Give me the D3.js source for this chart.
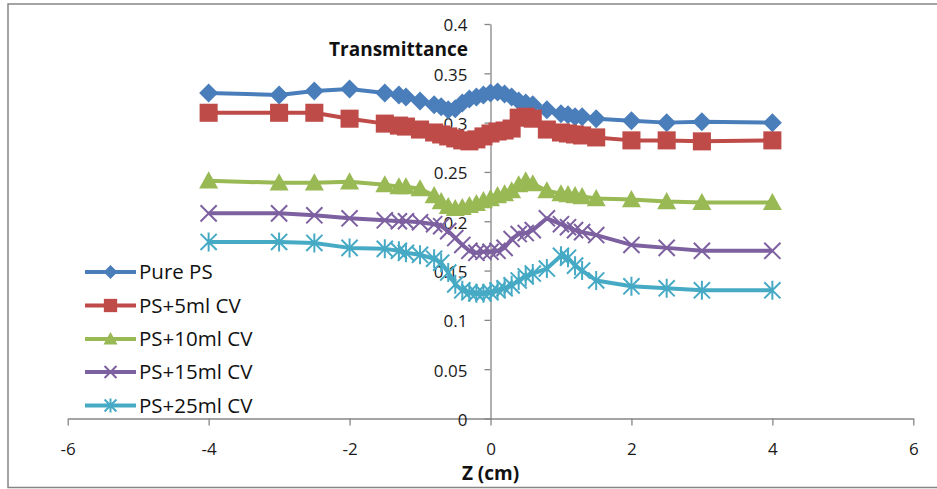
<!DOCTYPE html>
<html>
<head>
<meta charset="utf-8">
<script src="https://cdn.jsdelivr.net/npm/d3@7"></script>
<style>
  body { margin: 0; background: #fff; }
  svg { display: block; }
  text { font-family: "Open Sans", sans-serif; }
</style>
</head>
<body>
<svg width="937" height="489"></svg>
<script>
// z positions (cm)
const zValues = [-4, -3, -2.5, -2, -1.5, -1.3, -1.2, -1, -0.8, -0.7, -0.6, -0.5, -0.4, -0.3, -0.2, -0.1, 0,
    0.1, 0.2, 0.3, 0.4, 0.5, 0.6, 0.8, 1, 1.1, 1.2, 1.3, 1.5, 2, 2.5, 3, 4];

const purePS = [0.330, 0.328, 0.332, 0.334, 0.330, 0.328, 0.326, 0.322, 0.318, 0.316, 0.313, 0.314, 0.320, 0.324, 0.326, 0.328, 0.330,
    0.331, 0.329, 0.326, 0.322, 0.320, 0.318, 0.313, 0.309, 0.308, 0.306, 0.306, 0.304, 0.302, 0.300, 0.301, 0.300];
const ps5 = [0.310, 0.310, 0.310, 0.304, 0.299, 0.297, 0.296, 0.293, 0.290, 0.288, 0.286, 0.284, 0.282, 0.281, 0.283, 0.286, 0.289,
    0.291, 0.292, 0.294, 0.305, 0.306, 0.304, 0.293, 0.290, 0.289, 0.288, 0.287, 0.285, 0.282, 0.282, 0.281, 0.282];
const ps10 = [0.241, 0.239, 0.239, 0.240, 0.237, 0.235, 0.235, 0.233, 0.226, 0.220, 0.215, 0.213, 0.214, 0.216, 0.218, 0.221, 0.223,
    0.226, 0.228, 0.231, 0.237, 0.241, 0.238, 0.231, 0.228, 0.227, 0.226, 0.225, 0.223, 0.222, 0.220, 0.219, 0.219];
const ps15 = [0.208, 0.208, 0.206, 0.203, 0.201, 0.200, 0.200, 0.199, 0.197, 0.195, 0.190, 0.183, 0.176, 0.170, 0.168, 0.169, 0.169,
    0.170, 0.173, 0.182, 0.187, 0.188, 0.191, 0.203, 0.197, 0.194, 0.191, 0.189, 0.186, 0.176, 0.173, 0.170, 0.170];
const ps25 = [0.179, 0.179, 0.178, 0.173, 0.172, 0.170, 0.168, 0.166, 0.162, 0.158, 0.148, 0.136, 0.130, 0.128, 0.127, 0.127, 0.128,
    0.130, 0.132, 0.135, 0.140, 0.144, 0.147, 0.152, 0.165, 0.163, 0.155, 0.150, 0.140, 0.134, 0.132, 0.130, 0.130];

const seriesNames = ["Pure PS", "PS+5ml CV", "PS+10ml CV", "PS+15ml CV", "PS+25ml CV"];
const xTicks = [-6, -4, -2, 0, 2, 4, 6];
const yTicks = [0, 0.05, 0.1, 0.15, 0.2, 0.25, 0.3, 0.35, 0.4];

const seriesValues = [purePS, ps5, ps10, ps15, ps25];
const colors = ["#4a7ebb", "#be4b48", "#98b954", "#7d60a0", "#46aac5"];
const markers = ["diamond", "square", "triangle", "x", "star"];

const svg = d3.select("svg");

// outer chart border (right edge falls outside the picture)
svg.append("rect")
    .attr("x", 8).attr("y", 4)
    .attr("width", 940).attr("height", 483.5)
    .attr("fill", "none")
    .attr("stroke", "#868686")
    .attr("stroke-width", 1.5);

const x = d3.scaleLinear().domain([-6, 6]).range([67.7, 913.3]);
const y = d3.scaleLinear().domain([0, 0.4]).range([418.5, 24]);

// x axis along y = 0
const xAxis = svg.append("g")
    .attr("transform", `translate(0,${y(0)})`)
    .call(d3.axisBottom(x).tickValues(xTicks).tickSize(7).tickSizeOuter(0).tickFormat(d3.format("d")));
xAxis.select(".domain").attr("stroke", "#868686").attr("stroke-width", 1.3);
xAxis.selectAll(".tick line").attr("stroke", "#868686").attr("stroke-width", 1.3);
xAxis.selectAll(".tick text")
    .attr("y", 24)
    .attr("fill", "#1a1a1a")
    .style("font-size", "17px")
    .text(d => d < 0 ? "-" + Math.abs(d) : d);

// y axis along x = 0
const yAxis = svg.append("g")
    .attr("transform", `translate(${x(0)},0)`)
    .call(d3.axisLeft(y).tickValues(yTicks).tickSize(6).tickSizeOuter(0).tickFormat(d => String(+d.toFixed(2))));
yAxis.select(".domain").attr("stroke", "#868686").attr("stroke-width", 1.3);
yAxis.selectAll(".tick line").attr("stroke", "#868686").attr("stroke-width", 1.3);
yAxis.selectAll(".tick text")
    .attr("x", -23)
    .attr("dy", "0.4em")
    .attr("fill", "#1a1a1a")
    .style("font-size", "17px");

// axis titles
svg.append("text")
    .attr("x", 468).attr("y", 56)
    .attr("text-anchor", "end")
    .style("font-size", "19px")
    .style("font-weight", "bold")
    .attr("fill", "#111")
    .text("Transmittance");

svg.append("text")
    .attr("x", x(0)).attr("y", 480)
    .attr("text-anchor", "middle")
    .style("font-size", "19px")
    .style("font-weight", "bold")
    .attr("fill", "#111")
    .text("Z (cm)");

function drawMarker(g, type, color, s) {
    if (type === "diamond") {
        g.append("path").attr("d", `M0,${-s}L${s},0L0,${s}L${-s},0Z`).attr("fill", color);
    } else if (type === "square") {
        g.append("rect").attr("x", -s * 0.95).attr("y", -s * 0.95)
            .attr("width", s * 1.9).attr("height", s * 1.9).attr("fill", color);
    } else if (type === "triangle") {
        g.append("path").attr("d", `M0,${-s}L${s},${s * 0.8}L${-s},${s * 0.8}Z`).attr("fill", color);
    } else if (type === "x") {
        const a = s * 0.85;
        g.append("path").attr("d", `M${-a},${-a}L${a},${a}M${-a},${a}L${a},${-a}`)
            .attr("stroke", color).attr("stroke-width", 2).attr("fill", "none");
    } else {
        const a = s * 0.85;
        g.append("path").attr("d", `M${-a},${-a}L${a},${a}M${-a},${a}L${a},${-a}M0,${-s}L0,${s}`)
            .attr("stroke", color).attr("stroke-width", 2).attr("fill", "none");
    }
}

const line = d3.line()
    .x(d => x(d[0]))
    .y(d => y(d[1]));

seriesValues.forEach((vals, i) => {
    const pts = zValues.map((z, j) => [z, vals[j]]);
    svg.append("path")
        .datum(pts)
        .attr("d", line)
        .attr("fill", "none")
        .attr("stroke", colors[i])
        .attr("stroke-width", 4)
        .attr("stroke-linejoin", "round");

    pts.forEach(p => {
        const g = svg.append("g").attr("transform", `translate(${x(p[0])},${y(p[1])})`);
        drawMarker(g, markers[i], colors[i], 9.5);
    });
});

// legend
const legendY = [272, 305.5, 339, 372, 405.5];
seriesNames.forEach((name, i) => {
    const ly = legendY[i];
    svg.append("line")
        .attr("x1", 85).attr("x2", 136)
        .attr("y1", ly).attr("y2", ly)
        .attr("stroke", colors[i])
        .attr("stroke-width", 4);
    const g = svg.append("g").attr("transform", `translate(110.5,${ly})`);
    drawMarker(g, markers[i], colors[i], 7);
    svg.append("text")
        .attr("x", 139).attr("y", ly)
        .attr("dy", "0.36em")
        .style("font-size", "20.5px")
        .attr("fill", "#111")
        .text(name);
});
</script>
</body>
</html>
